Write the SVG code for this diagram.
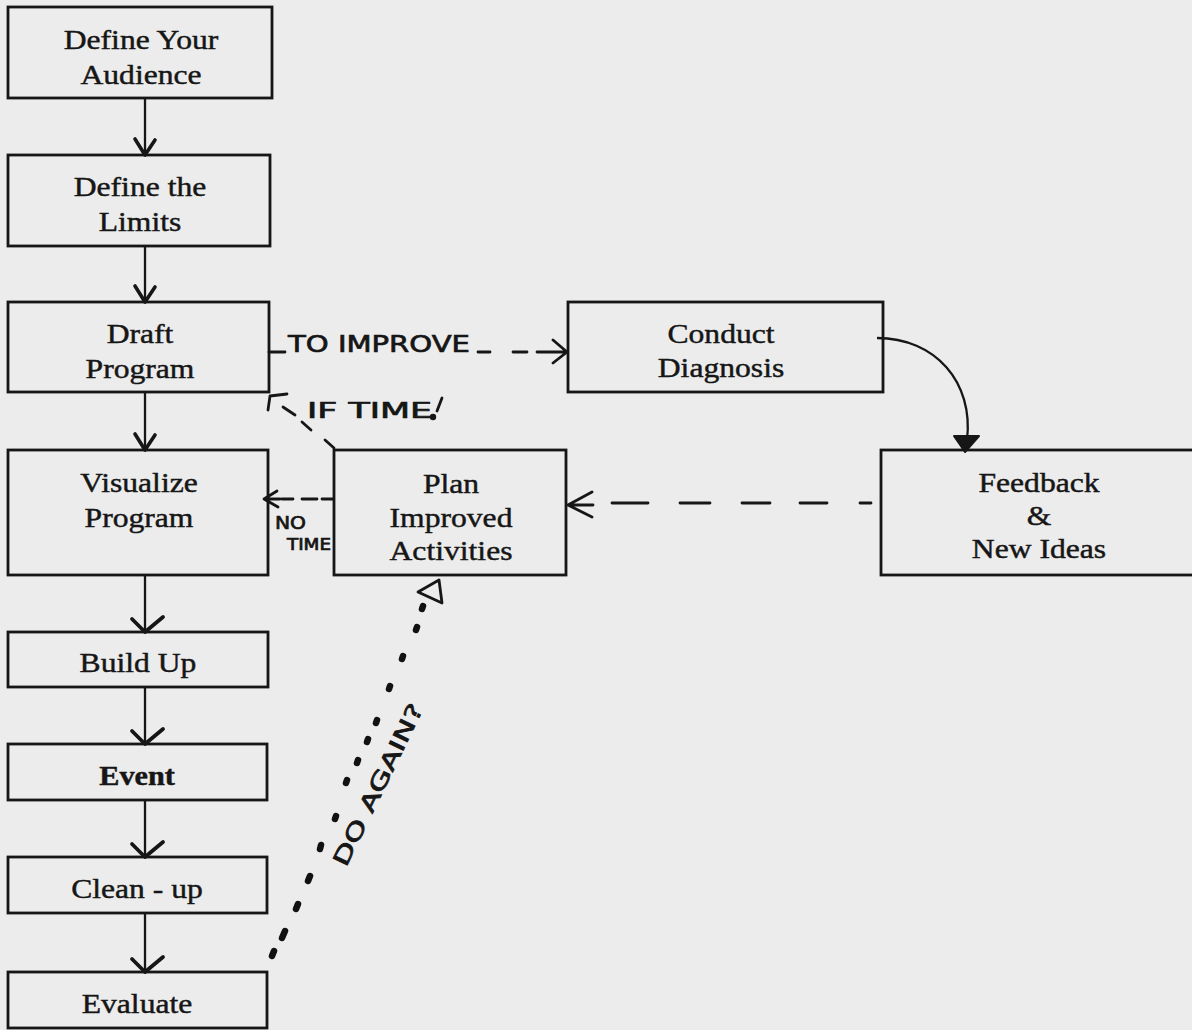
<svg xmlns="http://www.w3.org/2000/svg" width="1192" height="1030" viewBox="0 0 1192 1030">
<style>
.box{fill:none;stroke:#161616;stroke-width:2.8}
.t{font-family:"Liberation Serif","Times New Roman",serif;font-size:28px;fill:#161616;stroke:#161616;stroke-width:0.45;text-anchor:middle}
.b{font-weight:bold}
.ln{fill:none;stroke:#161616;stroke-width:2.3}
.hw{fill:none;stroke:#161616;stroke-width:2.8;stroke-linecap:round;stroke-linejoin:round}
.dot{fill:none;stroke:#111;stroke-width:6.5;stroke-linecap:round}
.h{font-family:"DejaVu Sans","Liberation Sans",sans-serif;fill:#161616;stroke:#161616;stroke-width:0.7}
</style>
<defs>
<marker id="v" markerUnits="userSpaceOnUse" orient="auto" refX="0" refY="0" markerWidth="40" markerHeight="40" viewBox="-20 -20 40 40" overflow="visible">
<path d="M-15,-10 L0,0 L-16,10" fill="none" stroke="#161616" stroke-width="3.6" stroke-linecap="round" stroke-linejoin="round"/>
</marker>
<marker id="chk" markerUnits="userSpaceOnUse" orient="auto" refX="0" refY="0" markerWidth="40" markerHeight="40" viewBox="-20 -20 40 40" overflow="visible">
<path d="M-13,13 L0,0 L-15,-18" fill="none" stroke="#161616" stroke-width="3.8" stroke-linecap="round" stroke-linejoin="round"/>
</marker>
</defs>
<rect x="0" y="0" width="1192" height="1030" fill="#ececec"/>

<g id="n-audience"><rect class="box" x="8" y="7" width="264" height="91"/>
<g transform="translate(141,0) scale(1.13,1)"><text class="t" x="0" y="49">Define Your</text><text class="t" x="0" y="84">Audience</text></g></g>

<g id="n-limits"><rect class="box" x="8" y="155" width="262" height="91"/>
<g transform="translate(140,0) scale(1.13,1)"><text class="t" x="0" y="196">Define the</text><text class="t" x="0" y="231">Limits</text></g></g>

<g id="n-draft"><rect class="box" x="8" y="302" width="261" height="90"/>
<g transform="translate(140,0) scale(1.13,1)"><text class="t" x="0" y="343">Draft</text><text class="t" x="0" y="378">Program</text></g></g>

<g id="n-visualize"><rect class="box" x="8" y="450" width="260" height="125"/>
<g transform="translate(139,0) scale(1.13,1)"><text class="t" x="0" y="492">Visualize</text><text class="t" x="0" y="527">Program</text></g></g>

<g id="n-buildup"><rect class="box" x="8" y="632" width="260" height="55"/>
<g transform="translate(138,0) scale(1.13,1)"><text class="t" x="0" y="672">Build Up</text></g></g>

<g id="n-event"><rect class="box" x="8" y="744" width="259" height="56"/>
<g transform="translate(137,0) scale(1.08,1)"><text class="t b" x="0" y="785">Event</text></g></g>

<g id="n-cleanup"><rect class="box" x="8" y="857" width="259" height="56"/>
<g transform="translate(137,0) scale(1.13,1)"><text class="t" x="0" y="898">Clean - up</text></g></g>

<g id="n-evaluate"><rect class="box" x="8" y="972" width="259" height="56"/>
<g transform="translate(137,0) scale(1.13,1)"><text class="t" x="0" y="1013">Evaluate</text></g></g>

<g id="n-plan"><rect class="box" x="334" y="450" width="232" height="125"/>
<g transform="translate(451,0) scale(1.13,1)"><text class="t" x="0" y="493">Plan</text><text class="t" x="0" y="527">Improved</text><text class="t" x="0" y="560">Activities</text></g></g>

<g id="n-diagnosis"><rect class="box" x="568" y="302" width="315" height="90"/>
<g transform="translate(721,0) scale(1.13,1)"><text class="t" x="0" y="343">Conduct</text><text class="t" x="0" y="377">Diagnosis</text></g></g>

<g id="n-feedback"><rect class="box" x="881" y="450" width="330" height="125"/>
<g transform="translate(1039,0) scale(1.13,1)"><text class="t" x="0" y="492">Feedback</text><text class="t" x="0" y="525">&amp;</text><text class="t" x="0" y="558">New Ideas</text></g></g>

<g id="connectors">
<line class="ln" x1="145" y1="98" x2="145" y2="155" marker-end="url(#v)"/>
<line class="ln" x1="145" y1="246" x2="145" y2="302" marker-end="url(#v)"/>
<line class="ln" x1="145" y1="392" x2="145" y2="450" marker-end="url(#v)"/>
<line class="ln" x1="145" y1="575" x2="145" y2="632" marker-end="url(#chk)"/>
<line class="ln" x1="145" y1="687" x2="145" y2="744" marker-end="url(#chk)"/>
<line class="ln" x1="145" y1="800" x2="145" y2="857" marker-end="url(#chk)"/>
<line class="ln" x1="145" y1="913" x2="145" y2="972" marker-end="url(#chk)"/>

<!-- TO IMPROVE dashed arrow -->
<path class="hw" d="M269,352 H285 M478,352 H490 M513,352 H527 M537,352 H566 M553,340 L567,352 L553,363"/>
<text class="h" x="288" y="352" font-size="23" textLength="182" lengthAdjust="spacingAndGlyphs">TO  IMPROVE</text>

<!-- IF TIME dashed arrow from Plan to Draft -->
<path class="hw" d="M270,396 L287,394 M270,396 L268,410 M283,407 L295,415 M302,422 L311,430 M325,440 L334,448"/>
<text class="h" x="307" y="418" font-size="21" textLength="125" lengthAdjust="spacingAndGlyphs">IF TIME</text>
<path class="hw" d="M442,398 L437,411"/>
<circle cx="433" cy="417" r="3.2" fill="#161616"/>

<!-- NO TIME dashed arrow from Plan to Visualize -->
<path class="hw" d="M282,499 H293 M302,499 H317 M322,499 H333 M265,499 H280 M277,491 L264,499 L278,507"/>
<text class="h" x="275" y="529" font-size="17" textLength="31" lengthAdjust="spacingAndGlyphs">NO</text>
<text class="h" x="287" y="550" font-size="15" textLength="44" lengthAdjust="spacingAndGlyphs">TIME</text>

<!-- Feedback to Plan dashed arrow -->
<path class="hw" d="M860,503 H871 M800,503 H827 M742,503 H770 M680,503 H710 M612,503 H648 M568,505 H593 M592,492 L568,505 L592,517"/>

<!-- Conduct to Feedback curve -->
<path class="ln" d="M877,338 C935,338 974,382 967,440"/>
<path d="M954,436 L979,436 L965,452 Z" fill="#161616" stroke="#161616" stroke-width="2" stroke-linejoin="round"/>

<!-- DO AGAIN dotted arrow -->
<g class="dot">
<path d="M423,606 l-1,3"/><path d="M417,627 l-1,3"/><path d="M403,656 l-1,3"/><path d="M390,686 l-1,3"/>
<path d="M377,720 l-1,3"/><path d="M368,739 l-1,3"/><path d="M358,760 l-1,3"/><path d="M347,780 l-1,3"/>
<path d="M336,816 l-1,3"/><path d="M321,845 l-1,4"/><path d="M310,876 l-2,5"/><path d="M298,904 l-2,5"/>
<path d="M285,931 l-3,7"/><path d="M274,951 l-2,5"/>
</g>
<polygon points="418,592 439,580 442,603" fill="none" stroke="#161616" stroke-width="2.8" stroke-linejoin="round"/>
<text class="h" x="346" y="868" font-size="22" textLength="178" lengthAdjust="spacingAndGlyphs" transform="rotate(-64 346 868)">DO AGAIN?</text>
</g>
</svg>
